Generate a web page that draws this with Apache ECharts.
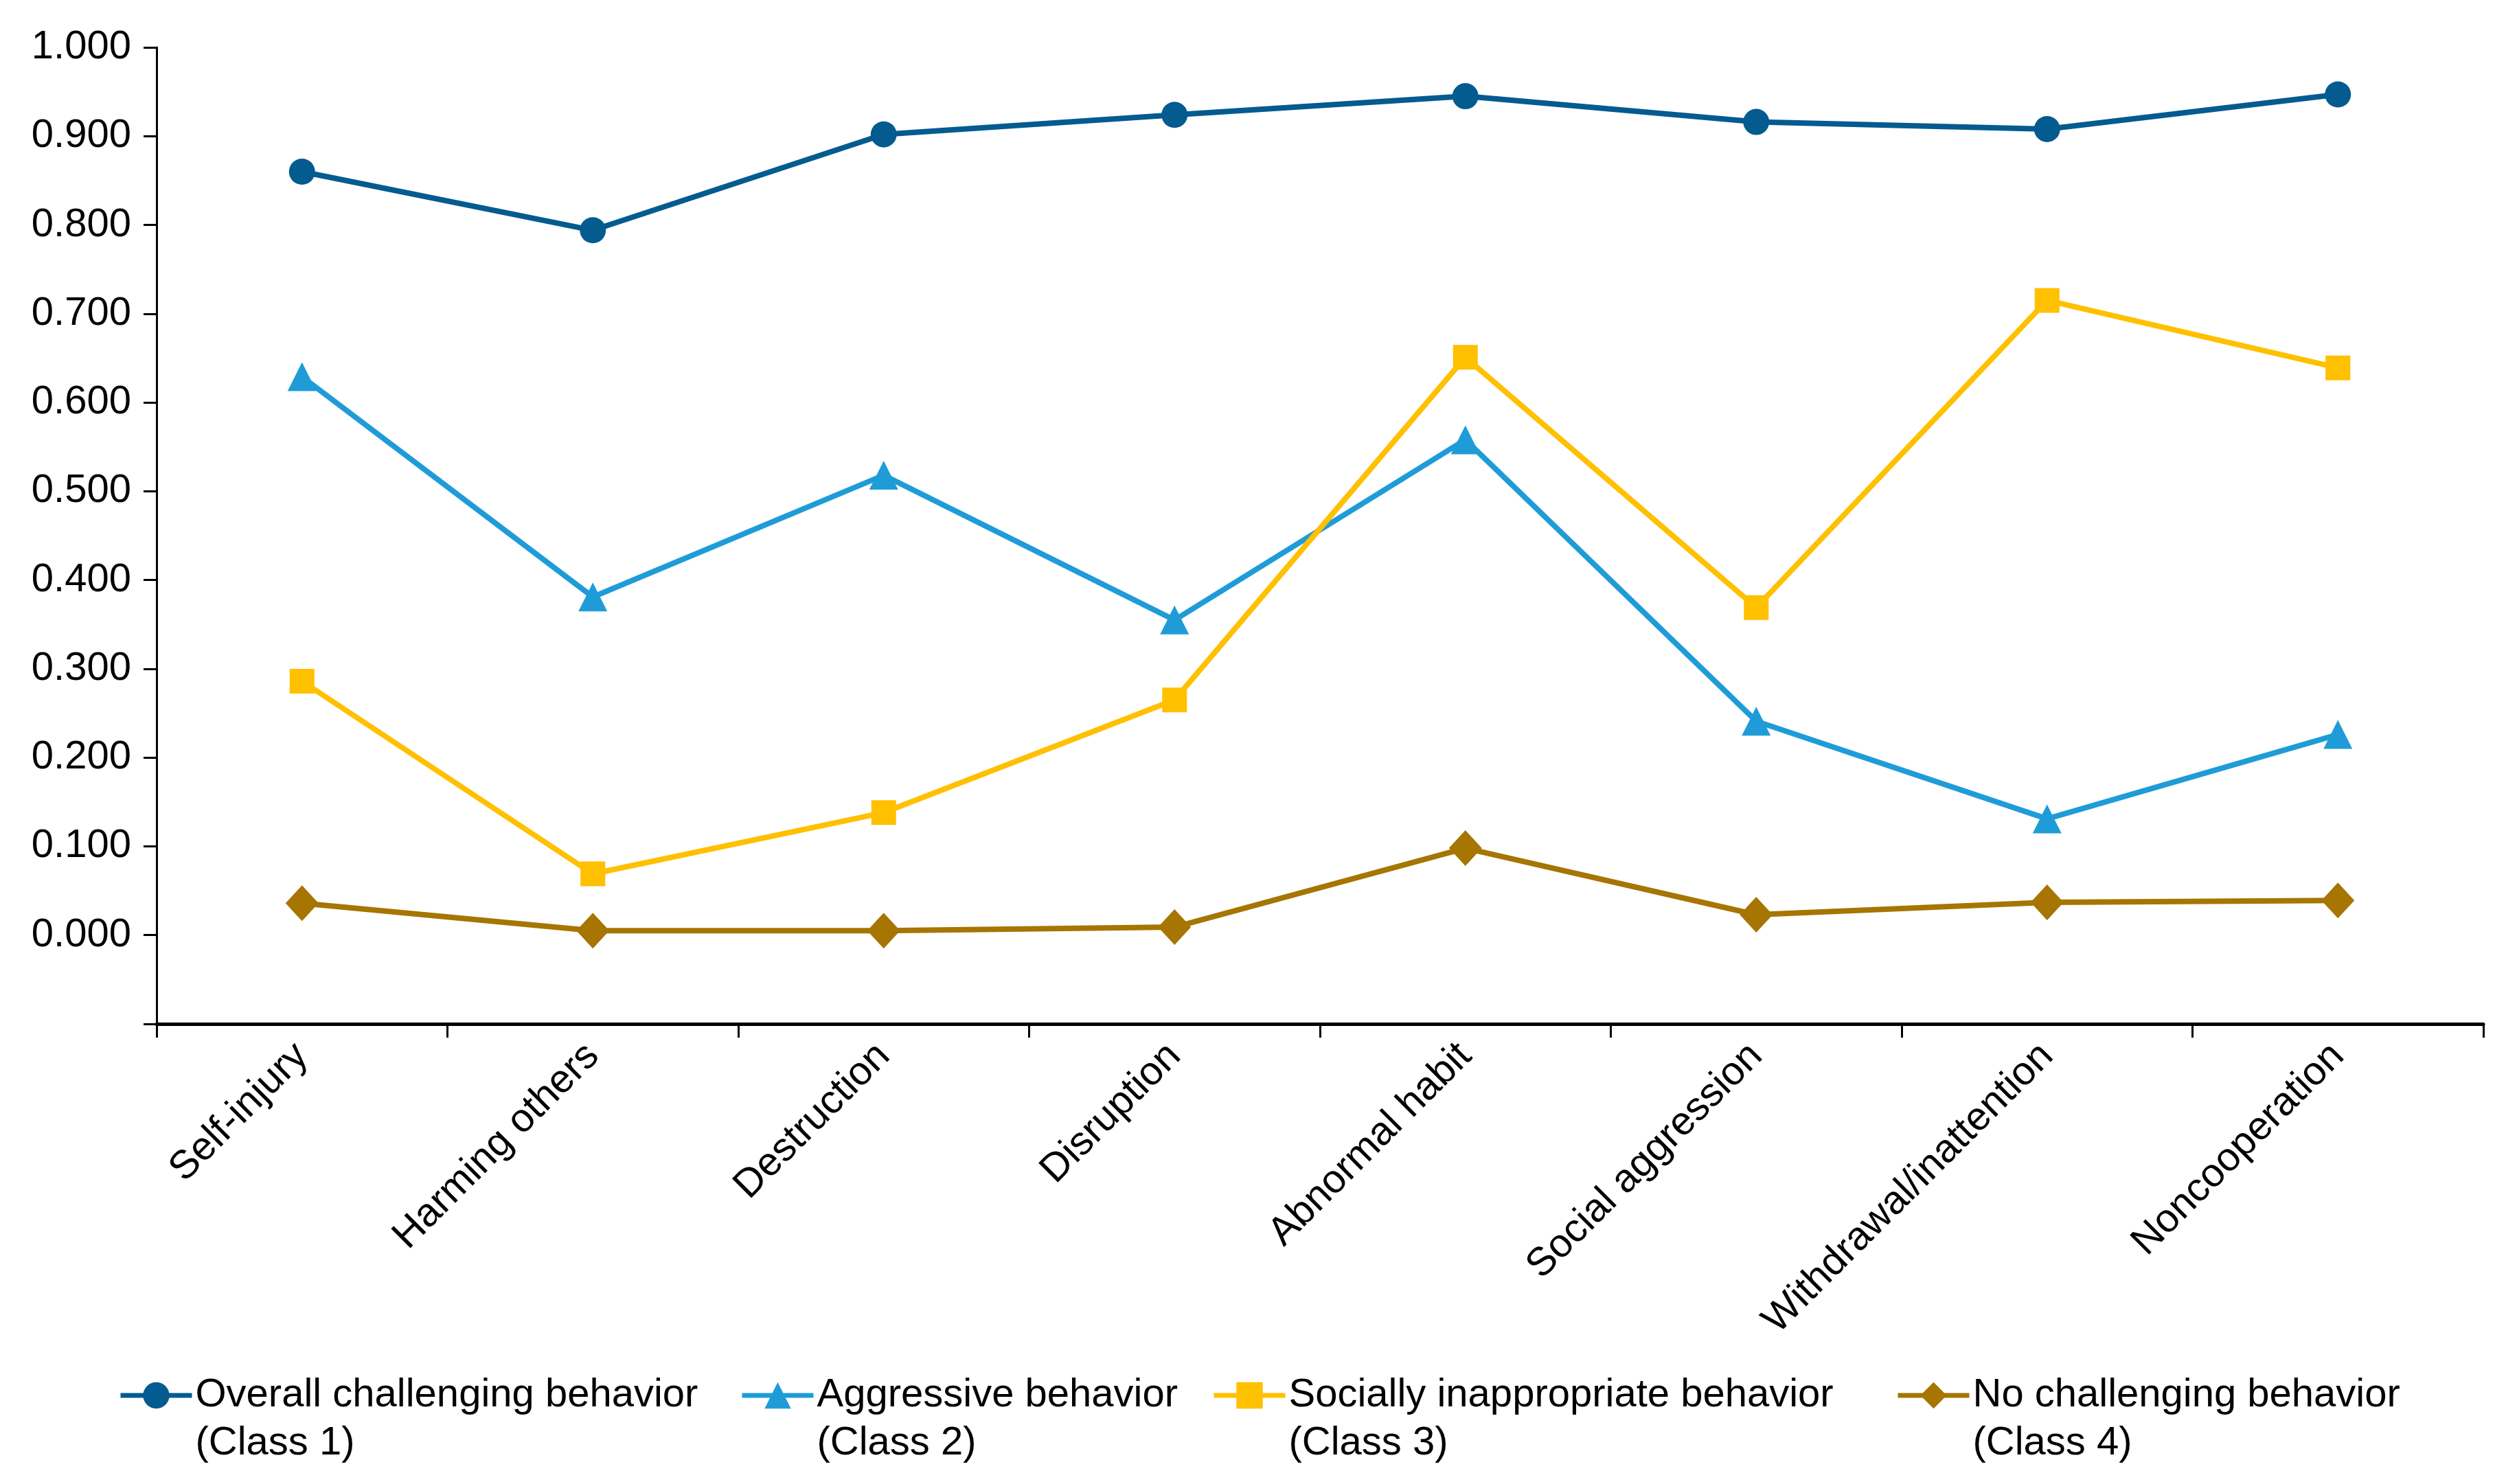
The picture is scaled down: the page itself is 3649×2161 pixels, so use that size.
<!DOCTYPE html>
<html>
<head>
<meta charset="utf-8">
<script src="https://cdn.jsdelivr.net/npm/echarts@6/dist/echarts.min.js"></script>
<style>
html,body{margin:0;padding:0;background:#fff;}
#chart{width:3649px;height:2161px;}
</style>
</head>
<body>
<div id="chart"></div>
<script>
var categories = ['Self-injury','Harming others','Destruction','Disruption','Abnormal habit','Social aggression','Withdrawal/inattention','Noncooperation'];
var class1 = [0.860, 0.794, 0.902, 0.924, 0.945, 0.916, 0.908, 0.947];
var class2 = [0.629, 0.381, 0.518, 0.355, 0.558, 0.241, 0.131, 0.226];
var class3 = [0.286, 0.069, 0.138, 0.265, 0.651, 0.369, 0.715, 0.639];
var class4 = [0.036, 0.005, 0.005, 0.009, 0.098, 0.023, 0.037, 0.039];
var seriesNames = ['Overall challenging behavior\n(Class 1)','Aggressive behavior\n(Class 2)','Socially inappropriate behavior\n(Class 3)','No challenging behavior\n(Class 4)'];
var yTicks = {min: -0.1, max: 1.0, interval: 0.1};

var colors = ['#035B8F','#1F9CD8','#FFC000','#A67502'];
var symbols = ['circle','triangle','rect','diamond'];
var sizes = [38, 42, 36, [48,52]];
var dataSets = [class1, class2, class3, class4];
var FONT = 'Liberation Sans, Arial, sans-serif';

var chart = echarts.init(document.getElementById('chart'));
var legendLefts = [172, 1077, 1764, 2760];
var legends = seriesNames.map(function(n, i){
  return {
    data: [n], left: legendLefts[i], top: 1927, padding: 0,
    itemWidth: 104, itemHeight: 48, itemGap: 0,
    formatter: function(name){ return '\n' + name; },
    lineStyle: {width: 7},
    textStyle: {fontFamily: FONT, fontSize: 58, color: '#000', lineHeight: 70}
  };
});
var series = seriesNames.map(function(n, i){
  return {
    name: n, type: 'line', data: dataSets[i],
    symbol: symbols[i], symbolSize: sizes[i],
    itemStyle: {color: colors[i]},
    lineStyle: {color: colors[i], width: 8},
    animation: false
  };
});
chart.setOption({
  backgroundColor: '#fff',
  animation: false,
  grid: {left: 228, right: 33, top: 69, bottom: 670, containLabel: false},
  legend: legends,
  xAxis: {
    type: 'category', data: categories, boundaryGap: true,
    axisLine: {onZero: false, lineStyle: {color: '#000', width: 5}},
    axisTick: {show: true, length: 20, lineStyle: {color: '#000', width: 3}, alignWithLabel: false},
    axisLabel: {rotate: 45, fontFamily: FONT, fontSize: 58, color: '#000', margin: 38, interval: 0}
  },
  yAxis: {
    type: 'value', min: yTicks.min, max: yTicks.max, interval: yTicks.interval,
    splitLine: {show: false},
    axisLine: {show: true, lineStyle: {color: '#000', width: 3}},
    axisTick: {show: true, length: 19, lineStyle: {color: '#000', width: 3}},
    axisLabel: {fontFamily: FONT, fontSize: 58, color: '#000', margin: 37,
      formatter: function(v){ return v < -0.0001 ? '' : Math.abs(v).toFixed(3); }}
  },
  series: series
});
</script>
</body>
</html>
